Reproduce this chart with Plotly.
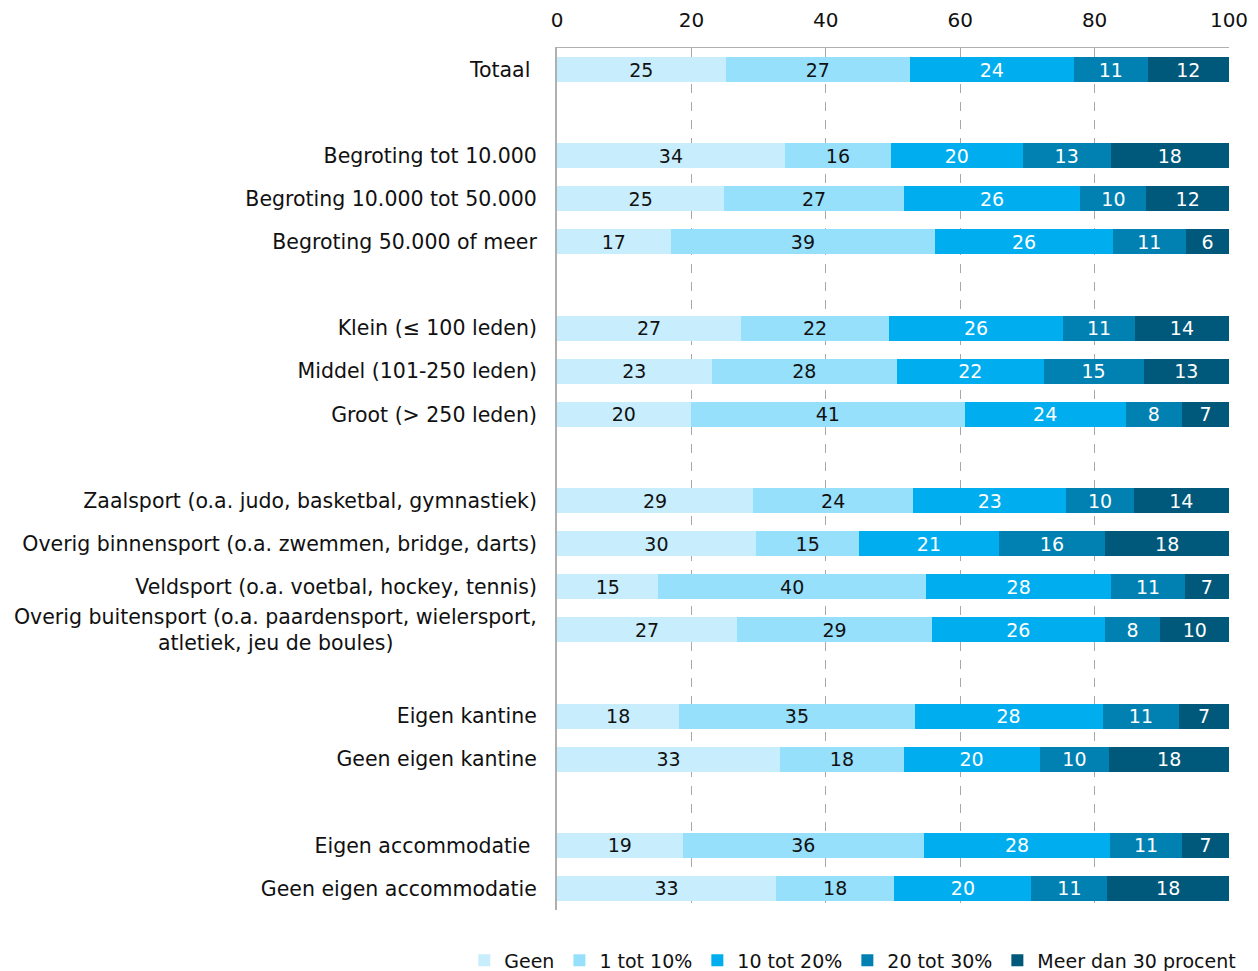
import plotly.graph_objects as go

NB = "\u00a0"
categories = [
    "Totaal" + NB, NB,
    "Begroting tot 10.000", "Begroting 10.000 tot 50.000", "Begroting 50.000 of meer", NB * 2,
    "Klein (≤ 100 leden)", "Middel (101-250 leden)", "Groot (> 250 leden)", NB * 3,
    "Zaalsport (o.a. judo, basketbal, gymnastiek)",
    "Overig binnensport (o.a. zwemmen, bridge, darts)",
    "Veldsport (o.a. voetbal, hockey, tennis)",
    "Overig buitensport (o.a. paardensport, wielersport,<br>atletiek, jeu de boules)" + NB * 22,
    NB * 4,
    "Eigen kantine", "Geen eigen kantine", NB * 5,
    "Eigen accommodatie" + NB, "Geen eigen accommodatie",
]

series_names = ["Geen", "1 tot 10%", "10 tot 20%", "20 tot 30%", "Meer dan 30 procent"]

geen =       [25.1, None, 33.9, 24.9, 16.9, None, 27.4, 23.0, 19.9, None, 29.2, 29.6, 15.1, 26.8, None, 18.2, 33.2, None, 18.7, 32.6]
een_tot10 =  [27.4, None, 15.8, 26.7, 39.4, None, 22.0, 27.6, 40.8, None, 23.8, 15.4, 39.8, 29.0, None, 35.0, 18.4, None, 35.9, 17.6]
tien_tot20 = [24.4, None, 19.6, 26.3, 26.4, None, 25.9, 21.8, 23.9, None, 22.8, 20.7, 27.6, 25.7, None, 28.0, 20.2, None, 27.7, 20.4]
twintig_30 = [11.0, None, 13.1, 9.8, 10.9, None, 10.7, 14.9, 8.4, None, 10.0, 15.9, 10.9, 8.3, None, 11.4, 10.4, None, 10.7, 11.3]
meer_30 =    [12.1, None, 17.6, 12.3, 6.4, None, 14.0, 12.7, 7.0, None, 14.2, 18.4, 6.6, 10.2, None, 7.4, 17.8, None, 7.0, 18.1]

values = [geen, een_tot10, tien_tot20, twintig_30, meer_30]
colors = ["#C8EEFD", "#97E0FC", "#00AEEF", "#0081B2", "#00587A"]
text_colors = ["#111111", "#111111", "#FFFFFF", "#FFFFFF", "#FFFFFF"]

FONT = "DejaVu Sans"

fig = go.Figure()
for name, vals, col, tcol in zip(series_names, values, colors, text_colors):
    fig.add_trace(go.Bar(
        y=categories, x=vals, name=name, orientation="h",
        marker=dict(color=col, line=dict(width=0)),
        text=[None if v is None else f"{v:.0f}" for v in vals],
        textposition="inside", insidetextanchor="middle", textangle=0,
        textfont=dict(family=FONT, size=19, color=tcol),
        width=0.58,
    ))

fig.update_layout(
    barmode="stack",
    width=1250, height=963,
    margin=dict(l=549, r=29, t=40, b=61, autoexpand=False),
    paper_bgcolor="white", plot_bgcolor="white",
    font=dict(family=FONT, size=20, color="#111111"),
    showlegend=True,
    legend=dict(orientation="h", x=-0.138, xanchor="left", y=-0.0586, yanchor="middle",
                font=dict(family=FONT, size=19), itemwidth=30, tracegroupgap=0,
                traceorder="normal"),
    uniformtext=dict(mode="show", minsize=19),
)
fig.update_xaxes(
    side="top", range=[0, 100], tickvals=[0, 20, 40, 60, 80, 100],
    showgrid=True, gridcolor="#A8A8A8", griddash="dash", gridwidth=1,
    showline=True, linecolor="#B0B0B0", linewidth=1, zeroline=False,
    ticks="", tickfont=dict(family=FONT, size=20), ticklabelstandoff=12,
)
fig.update_yaxes(
    type="category", categoryorder="array", categoryarray=categories,
    autorange="reversed", showline=True, linecolor="#B0B0B0", linewidth=2,
    ticks="", tickfont=dict(family=FONT, size=20.5), ticklabelstandoff=14,
    showgrid=False,
)

fig.write_html("out.html")
